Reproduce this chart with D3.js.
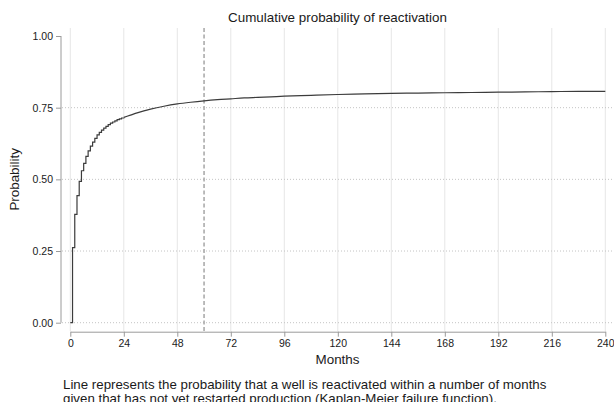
<!DOCTYPE html>
<html>
<head>
<meta charset="utf-8">
<script src="https://cdn.jsdelivr.net/npm/d3@7"></script>
<style>
  body { margin: 0; background: #fff; }
  svg text { font-family: "Liberation Sans", Arial, sans-serif; fill: #1a1a1a; }
  .axis path, .axis line { stroke: #9a9a9a; }
</style>
</head>
<body>
<div id="chart"></div>
<script>
// Kaplan-Meier failure function
// monthly steps for the first two years
var stepMonths = [0, 1, 2, 3, 4, 5, 6, 7, 8, 9, 10, 11, 12, 13, 14, 15, 16, 17, 18, 19, 20, 21, 22, 23, 24]
var stepProbs = [0, 0.262, 0.378, 0.443, 0.493, 0.530, 0.556, 0.580, 0.599, 0.616, 0.630, 0.643, 0.655, 0.664, 0.672, 0.679, 0.685, 0.691, 0.696, 0.700, 0.704, 0.708, 0.711, 0.714, 0.716]
// tail, where the steps are too small to see
var tailMonths = [24, 27, 30, 33, 36, 42, 48, 54, 60, 66, 72, 78, 84, 90, 96, 108, 120, 132, 144, 156, 168, 180, 192, 204, 216, 228, 240]
var tailProbs = [0.716, 0.724, 0.732, 0.739, 0.745, 0.755, 0.763, 0.769, 0.774, 0.778, 0.781, 0.784, 0.786, 0.788, 0.790, 0.793, 0.796, 0.798, 0.800, 0.801, 0.802, 0.803, 0.804, 0.805, 0.806, 0.807, 0.807]
var xTicks = [0, 24, 48, 72, 96, 120, 144, 168, 192, 216, 240]
var yTicks = [0, 0.25, 0.5, 0.75, 1]
var refMonth = 60

var title = "Cumulative probability of reactivation"
var xTitle = "Months"
var yTitle = "Probability"
var note = ["Line represents the probability that a well is reactivated within a number of months",
  "given that has not yet restarted production (Kaplan-Meier failure function)."]

var width = 614, height = 402

var svg = d3.select("#chart")
  .append("svg")
  .attr("width", width)
  .attr("height", height)

var x_scale = d3.scaleLinear().domain([0, 240]).range([70.3, 605.3])
var y_scale = d3.scaleLinear().domain([0, 1]).range([322.7, 36])

// vertical grid
svg.append("g")
  .selectAll("line")
  .data(xTicks)
  .enter()
  .append("line")
  .attr("x1", d => x_scale(d)).attr("x2", d => x_scale(d))
  .attr("y1", 28).attr("y2", 331)
  .attr("stroke", "#e6e6e6")
  .attr("stroke-width", 1)

// horizontal dotted grid
svg.append("g")
  .selectAll("line")
  .data(yTicks.filter(d => d < 1))
  .enter()
  .append("line")
  .attr("x1", 62).attr("x2", 614)
  .attr("y1", d => y_scale(d)).attr("y2", d => y_scale(d))
  .attr("stroke", "#c4c4c4")
  .attr("stroke-width", 1)
  .attr("stroke-dasharray", "1,2")

// reference line at 60 months
svg.append("line")
  .attr("x1", x_scale(refMonth)).attr("x2", x_scale(refMonth))
  .attr("y1", 28).attr("y2", 331)
  .attr("stroke", "#a6a6a6")
  .attr("stroke-width", 1.5)
  .attr("stroke-dasharray", "4,2.5")

const yaxis = d3.axisLeft(y_scale)
  .tickValues(yTicks)
  .tickFormat(d3.format(".2f"))
  .tickSize(5)
  .tickSizeOuter(0)

const xaxis = d3.axisBottom(x_scale)
  .tickValues(xTicks)
  .tickSize(5)
  .tickSizeOuter(0)

svg.append("g")
  .attr("class", "axis")
  .attr("transform", "translate(61,0)")
  .call(yaxis)
  .call(g => g.selectAll("text").attr("font-size", 10.5).attr("x", -8))
  .call(g => g.select(".domain").attr("d", "M0," + y_scale(1) + "V" + y_scale(0)))

svg.append("g")
  .attr("class", "axis")
  .attr("transform", "translate(0,331.7)")
  .call(xaxis)
  .call(g => g.selectAll("text").attr("font-size", 10.5).attr("y", 8))

// KM step line
const stepLine = d3.line()
  .x((d, i) => x_scale(stepMonths[i]))
  .y(d => y_scale(d))
  .curve(d3.curveStepAfter)

const tailLine = d3.line()
  .x((d, i) => x_scale(tailMonths[i]))
  .y(d => y_scale(d))
  .curve(d3.curveMonotoneX)

svg.append("path")
  .attr("d", stepLine(stepProbs))
  .attr("fill", "none")
  .attr("stroke", "#3c3c3c")
  .attr("stroke-width", 1.2)

svg.append("path")
  .attr("d", tailLine(tailProbs))
  .attr("fill", "none")
  .attr("stroke", "#3c3c3c")
  .attr("stroke-width", 1.2)

// titles
svg.append("text")
  .attr("x", 337.5).attr("y", 22)
  .attr("text-anchor", "middle")
  .attr("font-size", 13.4)
  .text(title)

svg.append("text")
  .attr("x", 337.5).attr("y", 364)
  .attr("text-anchor", "middle")
  .attr("font-size", 13.4)
  .text(xTitle)

svg.append("text")
  .attr("transform", "translate(19," + y_scale(0.5) + ") rotate(-90)")
  .attr("text-anchor", "middle")
  .attr("font-size", 13.4)
  .text(yTitle)

svg.append("g")
  .selectAll("text")
  .data(note)
  .enter()
  .append("text")
  .attr("x", 63)
  .attr("y", (d, i) => 389 + i * 14)
  .attr("font-size", 13.3)
  .text(d => d)
</script>
</body>
</html>
